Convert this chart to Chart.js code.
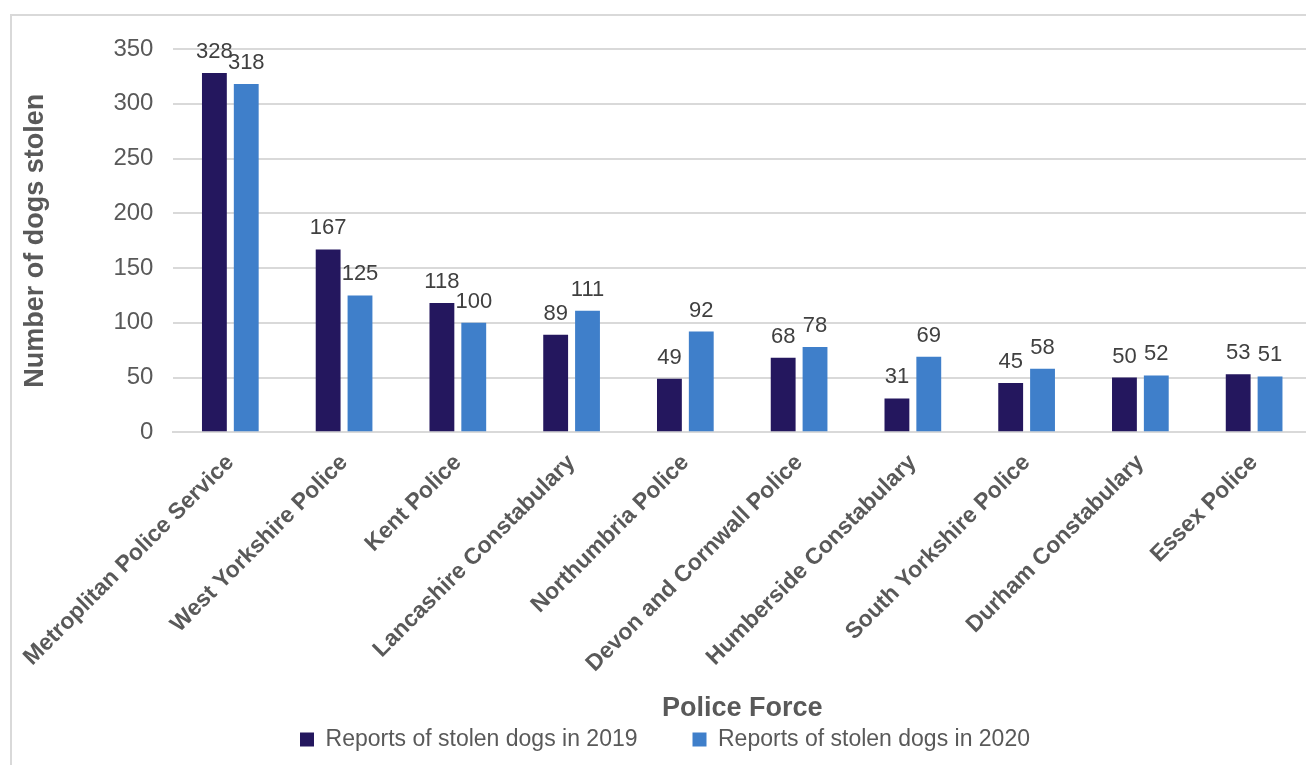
<!DOCTYPE html>
<html>
<head>
<meta charset="utf-8">
<script src="https://cdn.jsdelivr.net/npm/chart.js@4.4.1/dist/chart.umd.min.js"></script>
<style>
  html, body { margin: 0; padding: 0; background: #fff; overflow: hidden; }
  #frame {
    position: absolute; left: 10px; top: 14px;
    width: 1320px; height: 800px;
    border: 2px solid #d9d9d9; box-sizing: border-box;
  }
  #box { position: absolute; left: 10px; top: 14px; width: 1301px; height: 747px; }
</style>
</head>
<body>
<div id="frame"></div>
<div id="box"><canvas id="myChart"></canvas></div>
<script>
var forces = ["Metroplitan Police Service", "West Yorkshire Police", "Kent Police", "Lancashire Constabulary",
  "Northumbria Police", "Devon and Cornwall Police", "Humberside Constabulary", "South Yorkshire Police",
  "Durham Constabulary", "Essex Police"];
var stolen2019 = [328, 167, 118, 89, 49, 68, 31, 45, 50, 53];
var stolen2020 = [318, 125, 100, 111, 92, 78, 69, 58, 52, 51];
var yTicks = [0, 50, 100, 150, 200, 250, 300, 350];

var grey = "#595959";
var fontFam = "Arial, 'Liberation Sans', sans-serif";

// values above bars (no datalabels plugin available offline)
var barValues = {
  id: "barValues",
  afterDatasetsDraw: function(chart) {
    var ctx = chart.ctx;
    ctx.save();
    ctx.font = "22px " + fontFam;
    ctx.fillStyle = "#404040";
    ctx.textAlign = "center";
    ctx.textBaseline = "alphabetic";
    chart.data.datasets.forEach(function(ds, i) {
      chart.getDatasetMeta(i).data.forEach(function(bar, j) {
        ctx.fillText(ds.data[j], bar.x, bar.y - 15);
      });
    });
    ctx.restore();
  }
};

new Chart("myChart", {
  type: "bar",
  data: {
    labels: forces,
    datasets: [{
      label: "Reports of stolen dogs in 2019",
      data: stolen2019,
      backgroundColor: "#24175e",
      categoryPercentage: 0.56,
      barPercentage: 0.78
    }, {
      label: "Reports of stolen dogs in 2020",
      data: stolen2020,
      backgroundColor: "#3f7fca",
      categoryPercentage: 0.56,
      barPercentage: 0.78
    }]
  },
  options: {
    responsive: true,
    maintainAspectRatio: false,
    animation: false,
    devicePixelRatio: 1,
    layout: { padding: { top: 35, right: 0, left: 9, bottom: 0 } },
    plugins: {
      tooltip: { enabled: false },
      legend: {
        position: "bottom",
        labels: {
          boxWidth: 14, boxHeight: 14, padding: 55,
          color: grey,
          font: { size: 23, family: fontFam }
        }
      }
    },
    scales: {
      x: {
        grid: { display: false },
        border: { display: true, color: "#d9d9d9", width: 2 },
        ticks: {
          color: grey, minRotation: 45, maxRotation: 45, padding: 9,
          font: { size: 23, weight: "bold", family: fontFam }
        },
        title: {
          display: true, text: "Police Force", color: grey,
          padding: { top: 6, bottom: -52 },
          font: { size: 27, weight: "bold", family: fontFam }
        }
      },
      y: {
        min: 0, max: 350,
        afterBuildTicks: function(axis) {
          axis.ticks = yTicks.map(function(v) { return { value: v }; });
        },
        grid: { color: "#d9d9d9", lineWidth: 2, drawTicks: false },
        border: { display: false },
        ticks: {
          color: grey, padding: 20,
          font: { size: 24, family: fontFam }
        },
        title: {
          display: true, text: "Number of dogs stolen", color: grey,
          padding: { top: 0, bottom: 42 },
          font: { size: 27, weight: "bold", family: fontFam }
        }
      }
    }
  },
  plugins: [barValues]
});
</script>
</body>
</html>
